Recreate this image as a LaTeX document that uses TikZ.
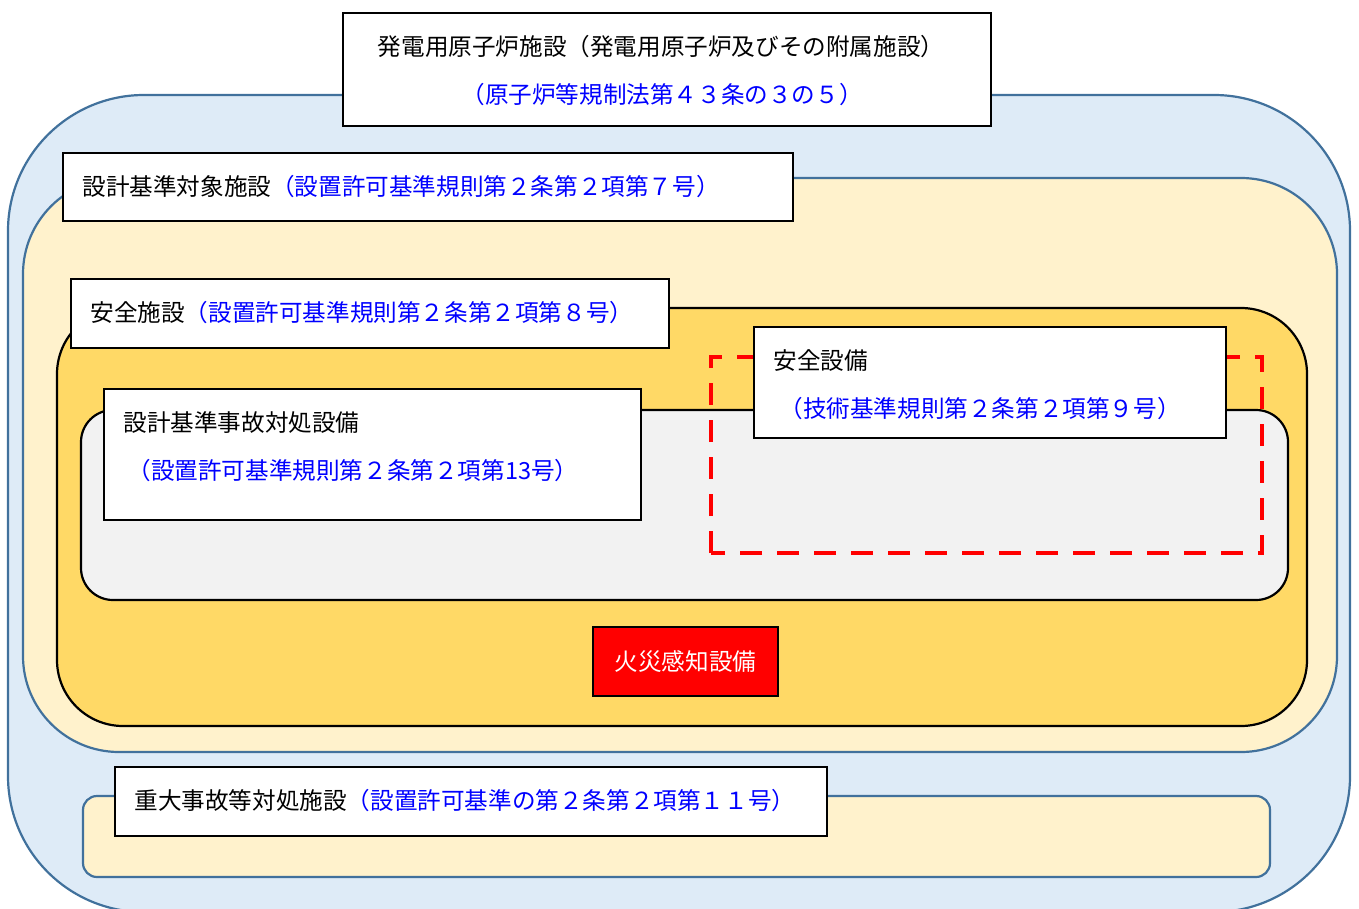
\documentclass[tikz,border=0pt]{standalone}
\usepackage{fontspec}
\setmainfont{Noto Sans CJK JP}
\definecolor{outerfill}{HTML}{DEEBF7}
\definecolor{outerline}{HTML}{41719C}
\definecolor{paleyellow}{HTML}{FFF2CC}
\definecolor{gold}{HTML}{FFD966}
\definecolor{palegray}{HTML}{F2F2F2}
\definecolor{txtblue}{HTML}{0000FF}
\begin{document}
\begin{tikzpicture}[x=0.5pt,y=-0.5pt,
  font=\fontsize{11.8pt}{14pt}\selectfont,
  bluearea/.style={draw=outerline,line width=1.1pt,fill=outerfill},
  yellowarea/.style={draw=outerline,line width=1.1pt,fill=paleyellow},
  goldarea/.style={draw=black,line width=1.1pt,fill=gold},
  grayarea/.style={draw=black,line width=1.1pt,fill=palegray},
  reddash/.style={draw=red,line width=2.3pt,dash pattern=on 11pt off 7.5pt},
  labelbox/.style={draw=black,line width=0.9pt,fill=white,inner sep=0pt},
  firebox/.style={draw=black,line width=0.9pt,fill=red,text=white,inner sep=0pt},
  txt/.style={inner sep=0pt,anchor=west}]
\useasboundingbox (0,0) rectangle (1359,909);
\begin{scope}
\clip (0,0) rectangle (1359,909);
% areas
\draw[bluearea,rounded corners=68pt] (8,95) rectangle (1350,912);
\draw[yellowarea,rounded corners=48pt] (23,178) rectangle (1337,752);
\draw[goldarea,rounded corners=33pt] (57,308) rectangle (1307,726);
\draw[grayarea,rounded corners=16pt] (81,410) rectangle (1288,600);
\draw[reddash] (711,553) rectangle (1262,357);
\draw[yellowarea,rounded corners=7pt] (83,796) rectangle (1270,877);
\end{scope}
% label boxes
\node[labelbox,minimum width=324pt,minimum height=56.5pt] (top) at (667,69.5) {};
\node[anchor=center,inner sep=0pt] (topa) at (661,47) {発電用原子炉施設（発電用原子炉及びその附属施設）};
\node[anchor=center,inner sep=0pt,text=txtblue] (topb) at (662,95) {（原子炉等規制法第４３条の３の５）};

\node[labelbox,minimum width=365pt,minimum height=34pt] (dbt) at (428,187) {};
\node[txt] (dbtt) at (82,187) {設計基準対象施設\textcolor{txtblue}{（設置許可基準規則第２条第２項第７号）}};

\node[labelbox,minimum width=299pt,minimum height=34.5pt] (anz) at (370,313.5) {};
\node[txt] (anzt) at (90,313) {安全施設\textcolor{txtblue}{（設置許可基準規則第２条第２項第８号）}};

\node[labelbox,minimum width=268.5pt,minimum height=65.5pt] (dbe) at (372.5,454.5) {};
\node[txt] (dbea) at (123,423) {設計基準事故対処設備};
\node[txt,text=txtblue] (dbeb) at (127,471) {（設置許可基準規則第２条第２項第13号）};

\node[labelbox,minimum width=236pt,minimum height=55.5pt] (ase) at (990,382.5) {};
\node[txt] (asea) at (773,361) {安全設備};
\node[txt,text=txtblue] (aseb) at (779,409) {（技術基準規則第２条第２項第９号）};

\node[labelbox,minimum width=356pt,minimum height=34.5pt] (sa) at (471,801.5) {};
\node[txt] (sat) at (134,801) {重大事故等対処施設\textcolor{txtblue}{（設置許可基準の第２条第２項第１１号）}};

\node[firebox,minimum width=92.5pt,minimum height=34.5pt] (fire) at (685.5,661.5) {火災感知設備};
\end{tikzpicture}
\end{document}
